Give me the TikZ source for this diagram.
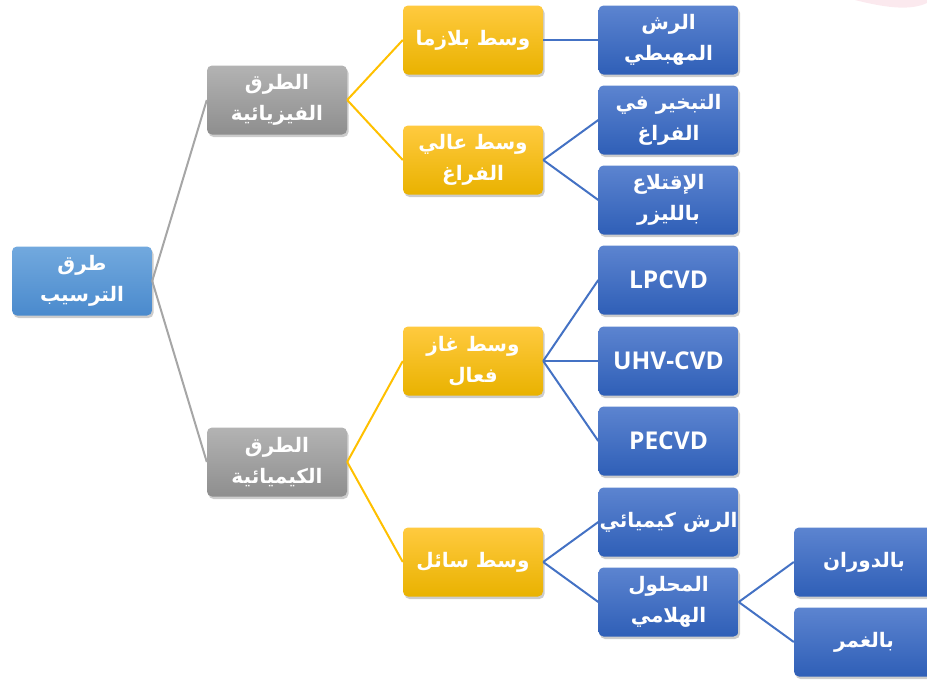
\documentclass[tikz,border=0pt]{standalone}
\usepackage{fontspec}
\usetikzlibrary{shadows}
\TeXXeTstate=1
\newfontfamily\arabicfont[Script=Arabic]{DejaVu Sans}
\newfontfamily\latinfont{Open Sans}
\newcommand{\rtl}[1]{\beginR #1\endR}
\definecolor{rootA}{HTML}{72A9DE}
\definecolor{rootB}{HTML}{4A8ACD}
\definecolor{grayA}{HTML}{B3B3B3}
\definecolor{grayB}{HTML}{8E8E8E}
\definecolor{yelA}{HTML}{FFCA3F}
\definecolor{yelB}{HTML}{E9B200}
\definecolor{bluA}{HTML}{5C84D0}
\definecolor{bluB}{HTML}{2F5FB7}
\definecolor{lineG}{HTML}{A6A6A6}
\definecolor{lineY}{HTML}{FFC000}
\definecolor{lineB}{HTML}{4472C4}
\definecolor{pinkA}{HTML}{FBE9EE}
\begin{document}
\begin{tikzpicture}[x=1pt,y=-1pt,
  box/.style={rectangle, rounded corners=5pt, minimum width=140pt, minimum height=69pt,
    inner sep=0pt, text=white, align=center,
    font=\arabicfont\bfseries\fontsize{20}{31}\selectfont,
    drop shadow={shadow xshift=1.5pt, shadow yshift=-2.5pt, opacity=0.4}},
  rootbox/.style={box, top color=rootA, bottom color=rootB},
  graybox/.style={box, top color=grayA, bottom color=grayB},
  yelbox/.style={box, top color=yelA, bottom color=yelB},
  blubox/.style={box, top color=bluA, bottom color=bluB},
  latin/.style={font=\latinfont\bfseries\fontsize{24.5}{28}\selectfont},
  gline/.style={draw=lineG, line width=2pt},
  yline/.style={draw=lineY, line width=2pt},
  bline/.style={draw=lineB, line width=2pt}]
\useasboundingbox (0,0) rectangle (927,681);
\fill[pinkA] (855,0) .. controls (890,9) and (912,10) .. (927,3) -- (927,0) -- cycle;

\node[rootbox] (root) at (82,281) {\rtl{طرق}\\\rtl{الترسيب}};
\node[graybox] (phys) at (277,100) {\rtl{الطرق}\\\rtl{الفيزيائية}};
\node[graybox] (chem) at (277,462) {\rtl{الطرق}\\\rtl{الكيميائية}};

\node[yelbox] (plasma) at (473,40) {\rtl{وسط بلازما}};
\node[yelbox] (vac) at (473,160) {\rtl{وسط عالي}\\\rtl{الفراغ}};
\node[yelbox] (gas) at (473,361) {\rtl{وسط غاز}\\\rtl{فعال}};
\node[yelbox] (liq) at (473,562) {\rtl{وسط سائل}};

\node[blubox] (sput) at (668.5,40) {\rtl{الرش}\\\rtl{المهبطي}};
\node[blubox] (evap) at (668.5,120) {\rtl{التبخير في}\\\rtl{الفراغ}};
\node[blubox] (laser) at (668.5,200) {\rtl{الإقتلاع}\\\rtl{بالليزر}};
\node[blubox, latin] (lp) at (668.5,280) {LPCVD};
\node[blubox, latin] (uhv) at (668.5,361) {UHV-CVD};
\node[blubox, latin] (pe) at (668.5,441) {PECVD};
\node[blubox] (spray) at (668.5,522) {\rtl{الرش كيميائي}};
\node[blubox] (solgel) at (668.5,602) {\rtl{المحلول}\\\rtl{الهلامي}};

\node[blubox] (spin) at (864,562) {\rtl{بالدوران}};
\node[blubox] (dip) at (864,642) {\rtl{بالغمر}};

\draw[gline] (root.east) -- (phys.west);
\draw[gline] (root.east) -- (chem.west);
\draw[yline] (phys.east) -- (plasma.west);
\draw[yline] (phys.east) -- (vac.west);
\draw[yline] (chem.east) -- (gas.west);
\draw[yline] (chem.east) -- (liq.west);
\draw[bline] (plasma.east) -- (sput.west);
\draw[bline] (vac.east) -- (evap.west);
\draw[bline] (vac.east) -- (laser.west);
\draw[bline] (gas.east) -- (lp.west);
\draw[bline] (gas.east) -- (uhv.west);
\draw[bline] (gas.east) -- (pe.west);
\draw[bline] (liq.east) -- (spray.west);
\draw[bline] (liq.east) -- (solgel.west);
\draw[bline] (solgel.east) -- (spin.west);
\draw[bline] (solgel.east) -- (dip.west);
\end{tikzpicture}
\end{document}
